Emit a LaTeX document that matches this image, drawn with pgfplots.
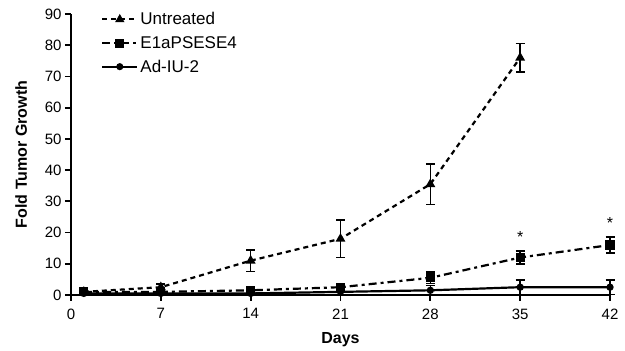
\documentclass[border=0pt]{standalone}
\usepackage{fontspec}
\setmainfont{Liberation Sans}
\usepackage{pgfplots}
\pgfplotsset{compat=1.18}
\begin{document}
\begin{tikzpicture}
\begin{axis}[
  name=ax,
  scale only axis, width=539pt, height=281pt,
  xmin=0, xmax=42, ymin=0, ymax=90,
  axis lines=left, axis line style={-, line width=2.4pt},
  xtick={0,7,14,21,28,35,42}, ytick={0,10,...,90},
  tick align=outside, major tick length=6pt,
  tick style={line width=1.8pt, black},
  clip=false,
  xlabel={\textbf{Days}}, ylabel={\textbf{Fold Tumor Growth}},
  xlabel style={font=\fontsize{16}{18}\selectfont, yshift=-6pt},
  ylabel style={font=\fontsize{16}{18}\selectfont, yshift=11pt},
  ticklabel style={font=\fontsize{15}{17}\selectfont},
  xticklabel style={yshift=-4pt},
  /pgf/number format/assume math mode=true,
  legend style={at={(0.05,1.02)}, anchor=north west, draw=none, fill=none, font=\fontsize{17}{19}\selectfont, row sep=6pt},
  legend cell align=left,
  legend image code/.code={\draw[mark repeat=2,mark phase=2] plot coordinates {(0cm,0cm) (0.62cm,0cm) (1.24cm,0cm)};},
  legend image post style={line width=2pt},
  every axis plot/.append style={black, line width=2.2pt},
  error bars/error bar style={solid, line width=1.6pt},
  error bars/error mark options={solid, rotate=90, mark size=4.5pt, line width=1.6pt},
]
\addplot[dash pattern=on 5pt off 4pt, mark=triangle*, mark size=3.5pt, mark options={solid},
  error bars/.cd, y dir=both, y explicit]
  coordinates {(1,1) +- (0,0.3) (7,2.5) +- (0,1) (14,11) +- (0,3.5) (21,18) +- (0,6) (28,35.5) +- (0,6.5) (35,76) +- (0,4.5)};
\addlegendentry{Untreated}
\addplot[dash pattern=on 8pt off 4pt on 3pt off 4pt, mark=square*, mark size=3.5pt, mark options={solid},
  error bars/.cd, y dir=both, y explicit]
  coordinates {(1,1) +- (0,0.3) (7,1) +- (0,0.5) (14,1.5) +- (0,0.5) (21,2.5) +- (0,1) (28,5.5) +- (0,1.8) (35,12) +- (0,2) (42,16) +- (0,2.5)};
\addlegendentry{E1aPSESE4}
\addplot[solid, mark=*, mark size=2.5pt,
  error bars/.cd, y dir=both, y explicit]
  coordinates {(1,0.5) +- (0,0.3) (7,0.5) +- (0,0.3) (14,0.5) +- (0,0.4) (21,1) +- (0,0.8) (28,1.5) +- (0,1.5) (35,2.5) +- (0,2.3) (42,2.5) +- (0,2.3)};
\addlegendentry{Ad-IU-2}
\node[font=\fontsize{16}{18}\selectfont] at (axis cs:35,18.5) {*};
\node[font=\fontsize{16}{18}\selectfont] at (axis cs:42,23) {*};
\end{axis}
\path (ax.south west) ++(-71pt,-56pt) (ax.north east) ++(15pt,14pt);
\end{tikzpicture}
\end{document}
